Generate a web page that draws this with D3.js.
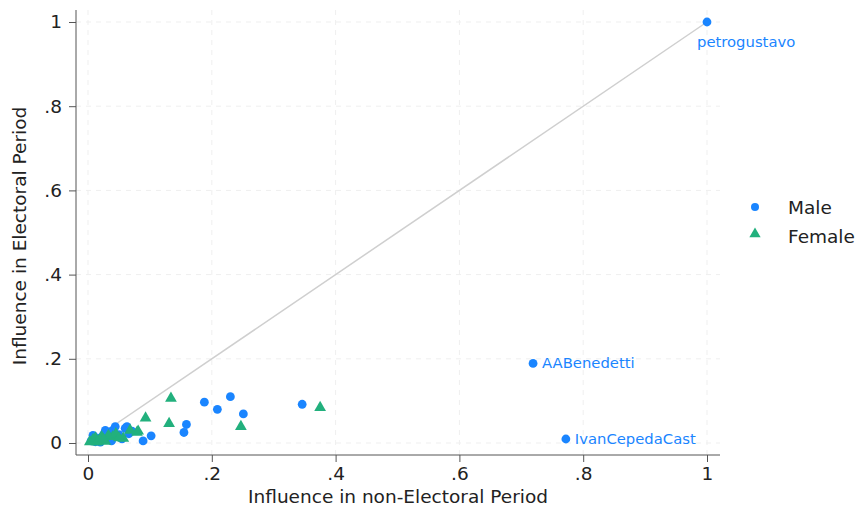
<!DOCTYPE html>
<html>
<head>
<meta charset="utf-8">
<script src="https://cdn.jsdelivr.net/npm/d3@7"></script>
<style>
  body { margin: 0; background: #fff; }
  text { font-family: "DejaVu Sans", Verdana, sans-serif; }
</style>
</head>
<body>
<div id="chart"></div>
<script>
// influence in non-electoral (x) vs electoral (y) period
const maleX = [1, 0.719, 0.772, 0.346, 0.230, 0.188, 0.209, 0.251, 0.159, 0.155, 0.102, 0.089,
  0.071, 0.063, 0.044, 0.005, 0.010, 0.015, 0.020, 0.025, 0.030, 0.035, 0.040, 0.045, 0.050,
  0.055, 0.060, 0.066, 0.012, 0.008, 0.038, 0.020, 0.028];
const maleY = [1, 0.189, 0.0095, 0.092, 0.110, 0.097, 0.080, 0.069, 0.044, 0.025, 0.017, 0.005,
  0.028, 0.039, 0.039, 0.005, 0.015, 0.008, 0.012, 0.020, 0.010, 0.025, 0.030, 0.015, 0.020,
  0.010, 0.035, 0.022, 0.003, 0.018, 0.005, 0.002, 0.030];
const maleNames = ["petrogustavo", "AABenedetti", "IvanCepedaCast"];

const femaleX = [0.375, 0.247, 0.134, 0.131, 0.093, 0.081, 0.079, 0.040, 0.057, 0.003, 0.008,
  0.012, 0.018, 0.022, 0.028, 0.033, 0.045, 0.050, 0.068, 0.015, 0.025];
const femaleY = [0.084, 0.039, 0.106, 0.046, 0.059, 0.028, 0.025, 0.015, 0.011, 0.003, 0.008,
  0.012, 0.006, 0.015, 0.004, 0.018, 0.022, 0.012, 0.030, 0.002, 0.009];

const xTicks = [0, 0.2, 0.4, 0.6, 0.8, 1];
const yTicks = [0, 0.2, 0.4, 0.6, 0.8, 1];
const tickLabel = (d) => (d === 0 ? "0" : d === 1 ? "1" : String(d).replace(/^0/, ""));

const width = 856;
const height = 514;
const frame = { left: 76, right: 720, top: 10, bottom: 455 };
const blue = "#1a85ff";
const green = "#22b07d";

const svg = d3.select("#chart").append("svg")
  .attr("width", width).attr("height", height);

const x = d3.scaleLinear().domain([0, 1]).range([88, 707]);
const y = d3.scaleLinear().domain([0, 1]).range([443, 22]);

// grid
svg.append("g").selectAll("line").data(yTicks).enter().append("line")
  .attr("x1", frame.left).attr("x2", frame.right)
  .attr("y1", (d) => y(d)).attr("y2", (d) => y(d))
  .attr("stroke", "#efefef").attr("stroke-dasharray", "5,5");
svg.append("g").selectAll("line").data(xTicks).enter().append("line")
  .attr("y1", frame.top).attr("y2", frame.bottom)
  .attr("x1", (d) => x(d)).attr("x2", (d) => x(d))
  .attr("stroke", "#efefef").attr("stroke-dasharray", "5,5");

// axes
const xAxis = svg.append("g")
  .attr("transform", `translate(0, ${frame.bottom})`)
  .call(d3.axisBottom(x).tickValues(xTicks).tickFormat(tickLabel).tickSize(7).tickPadding(5));
const yAxis = svg.append("g")
  .attr("transform", `translate(${frame.left}, 0)`)
  .call(d3.axisLeft(y).tickValues(yTicks).tickFormat(tickLabel).tickSize(7).tickPadding(7));
[xAxis, yAxis].forEach((g) => {
  g.select(".domain").remove();
  g.selectAll("line").attr("stroke", "#555");
  g.selectAll("text").attr("font-size", 18.5).attr("fill", "#222")
    .style("font-family", "'DejaVu Sans', Verdana, sans-serif");
});
svg.append("line").attr("x1", frame.left).attr("x2", frame.right)
  .attr("y1", frame.bottom).attr("y2", frame.bottom).attr("stroke", "#555");
svg.append("line").attr("x1", frame.left).attr("x2", frame.left)
  .attr("y1", frame.top).attr("y2", frame.bottom).attr("stroke", "#555");

// 45 degree line
svg.append("line")
  .attr("x1", x(0)).attr("y1", y(0)).attr("x2", x(1)).attr("y2", y(1))
  .attr("stroke", "#cfcfcf").attr("stroke-width", 1.5);

// points: male first, female drawn on top
svg.append("g").selectAll("circle").data(maleX).enter().append("circle")
  .attr("cx", (d) => x(d)).attr("cy", (d, i) => y(maleY[i]))
  .attr("r", 4.4).attr("fill", blue);
const tri = d3.symbol().type(d3.symbolTriangle).size(60);
svg.append("g").selectAll("path").data(femaleX).enter().append("path")
  .attr("d", tri)
  .attr("transform", (d, i) => `translate(${x(d)}, ${y(femaleY[i])})`)
  .attr("fill", green);

// labels
svg.append("g").selectAll("text").data(maleNames).enter().append("text")
  .attr("x", (d, i) => (i === 0 ? x(maleX[i]) - 10 : x(maleX[i]) + 9))
  .attr("y", (d, i) => (i === 0 ? y(maleY[i]) + 25 : y(maleY[i]) + 5))
  .attr("font-size", 14.8).attr("fill", blue)
  .text((d) => d);

// axis titles
svg.append("text").attr("x", 398).attr("y", 503).attr("text-anchor", "middle")
  .attr("font-size", 18.5).attr("fill", "#222").text("Influence in non-Electoral Period");
svg.append("text").attr("transform", "translate(26, 236) rotate(-90)")
  .attr("text-anchor", "middle").attr("font-size", 18.5).attr("fill", "#222")
  .text("Influence in Electoral Period");

// legend
const legend = svg.append("g");
legend.append("circle").attr("cx", 755).attr("cy", 207).attr("r", 4).attr("fill", blue);
legend.append("path").attr("d", d3.symbol().type(d3.symbolTriangle).size(55))
  .attr("transform", "translate(755, 234)").attr("fill", green);
legend.append("text").attr("x", 788).attr("y", 214).attr("font-size", 18.5).attr("fill", "#222").text("Male");
legend.append("text").attr("x", 788).attr("y", 243).attr("font-size", 18.5).attr("fill", "#222").text("Female");
</script>
</body>
</html>
